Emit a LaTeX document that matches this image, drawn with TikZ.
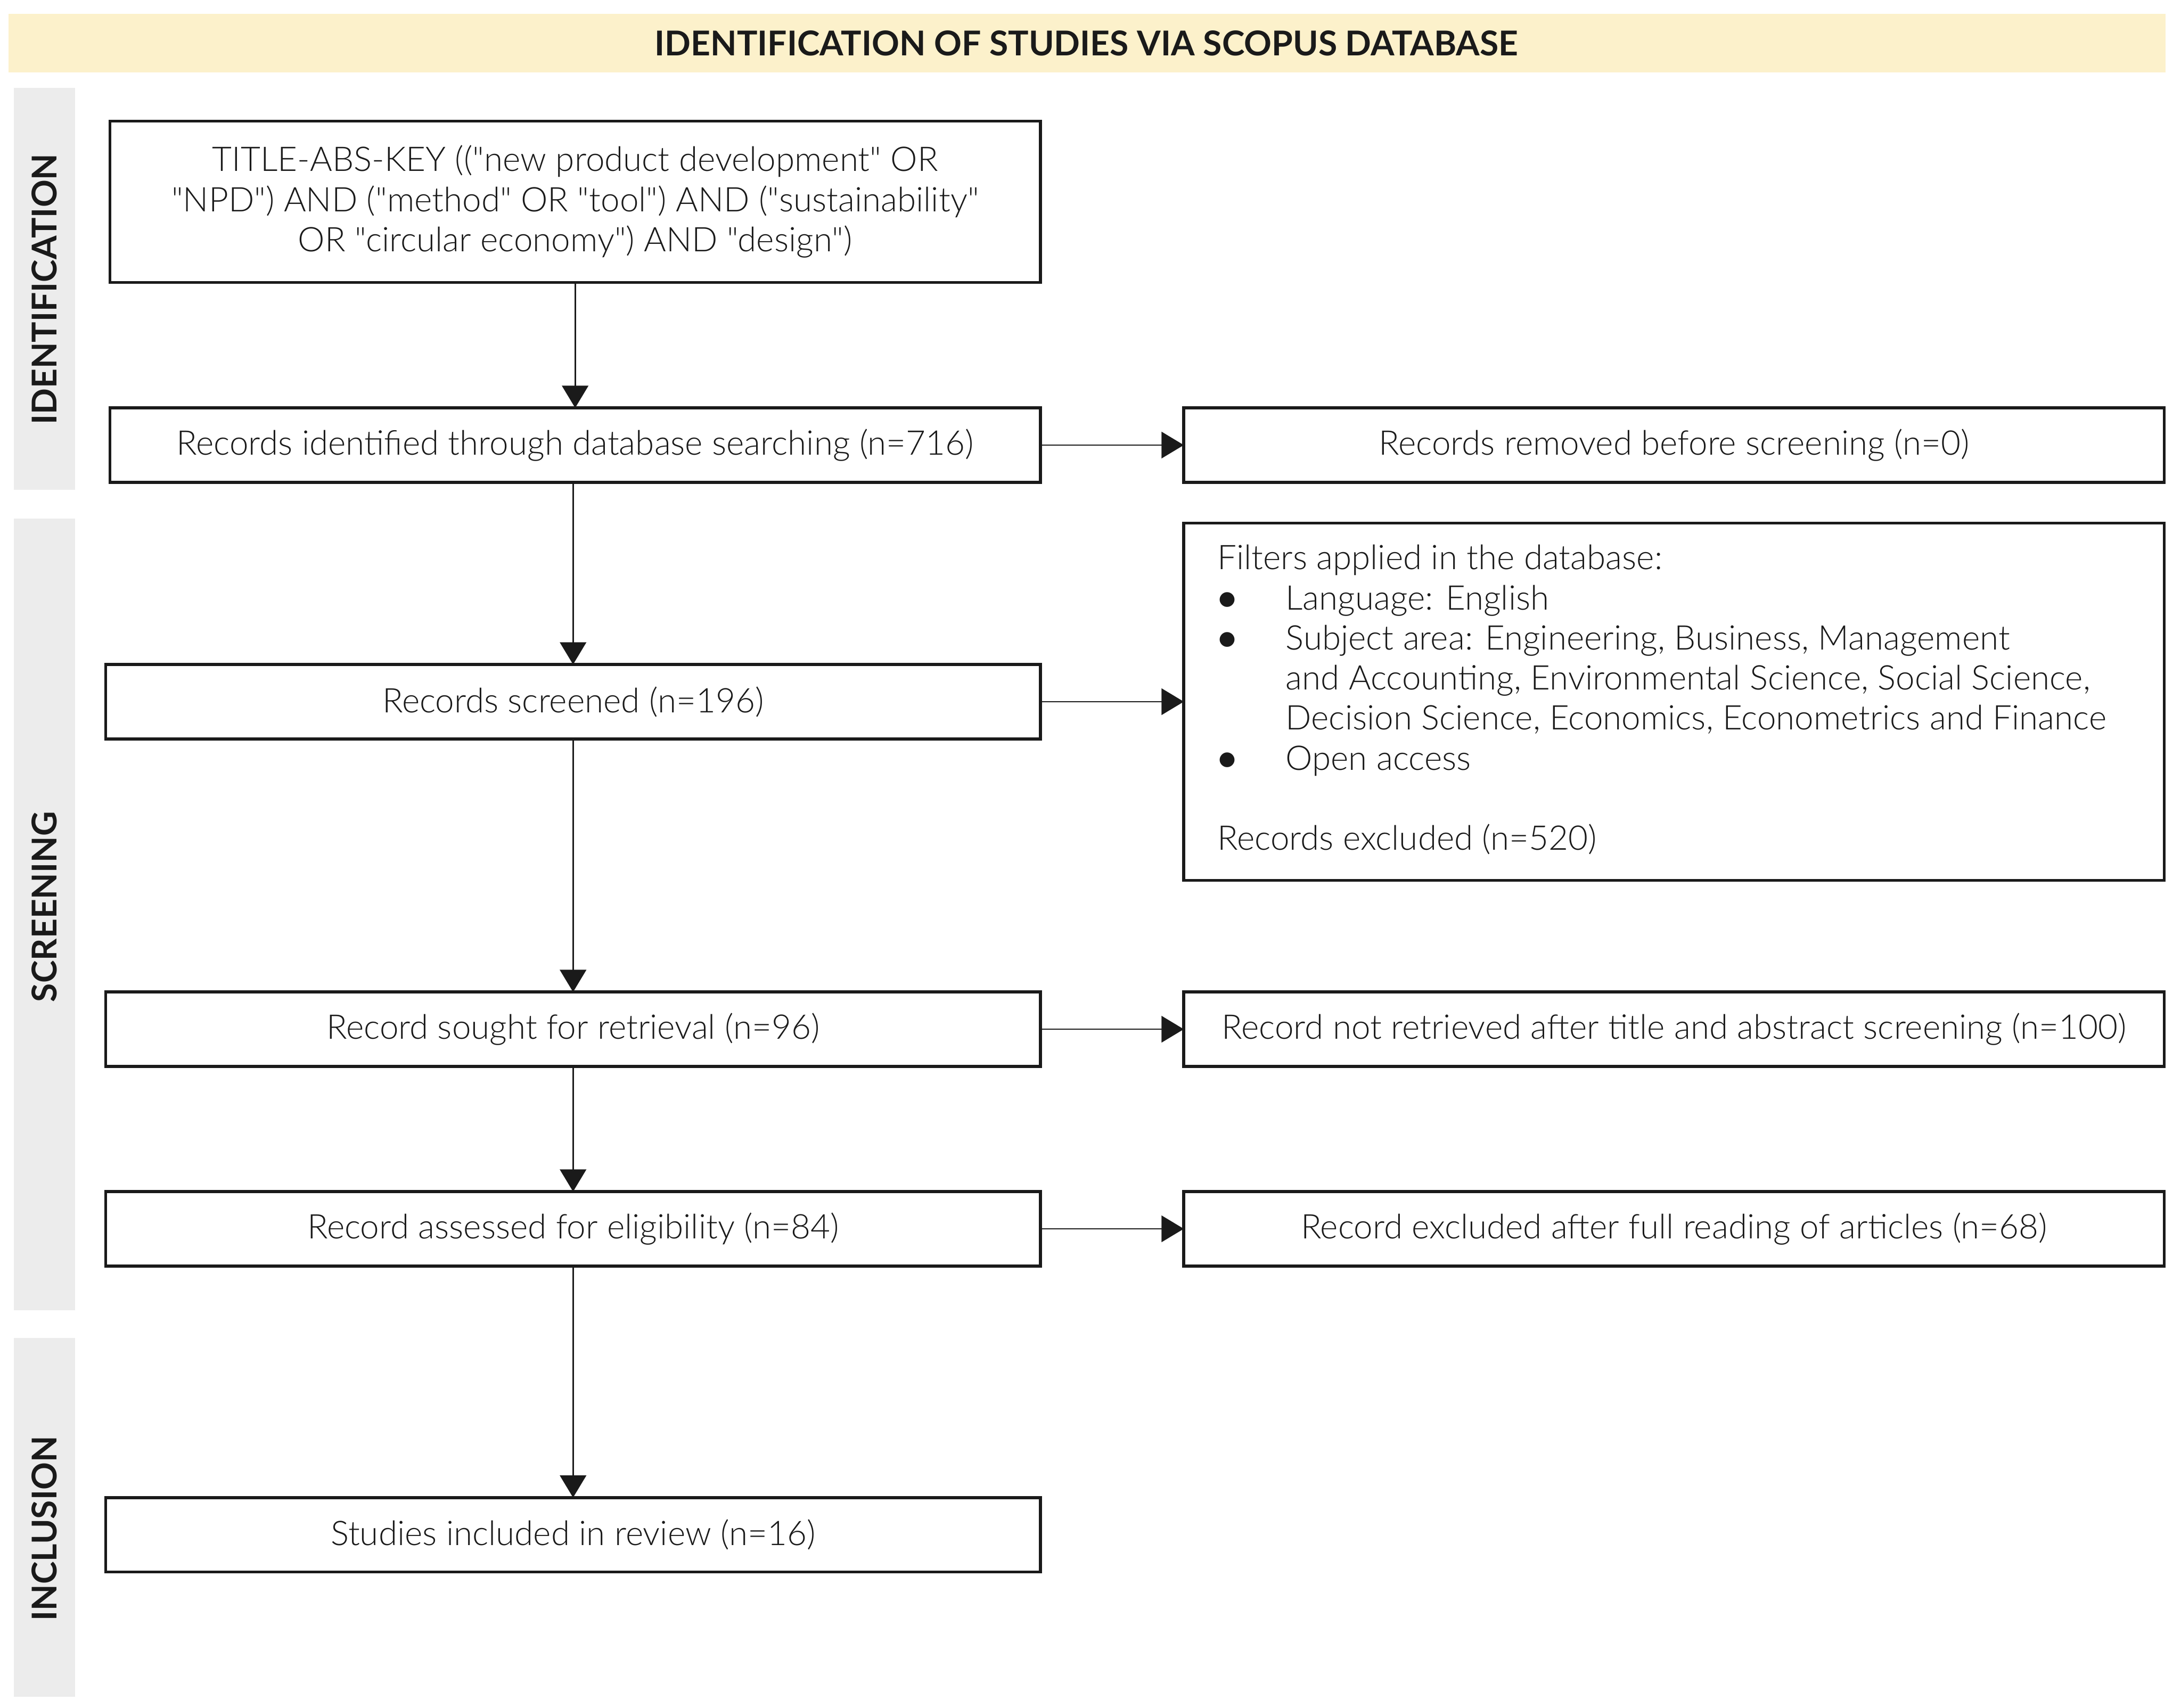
\documentclass[tikz,border=0pt]{standalone}
\usepackage{fontspec}
\newfontfamily\bodyfont{Lato Light}
\newfontfamily\headfont{Lato}
\usetikzlibrary{arrows.meta}
\definecolor{banner}{RGB}{252,241,203}
\definecolor{strip}{RGB}{236,236,236}
\definecolor{ink}{RGB}{26,26,26}
\newcommand{\blt}{{\headfont\bfseries\textbullet}}
\begin{document}
\begin{tikzpicture}[x=0.02cm,y=-0.02cm,
  txt/.style={font=\bodyfont\fontsize{13.9}{16.4}\selectfont, text=ink},
  box/.style={txt, draw=ink, line width=1.2pt, fill=white, inner sep=0pt, outer sep=0pt, align=center},
  wide/.style={minimum width=13.38cm},
  wideb/.style={minimum width=13.44cm},
  right/.style={minimum width=14.1cm},
  short/.style={minimum height=1.07cm},
  arr/.style={draw=ink, line width=0.6pt, -{Triangle[length=0.32cm,width=0.38cm]}},
  stripbox/.style={fill=strip, draw=none},
  side/.style={rotate=90, font=\headfont\bfseries\fontsize{14}{16}\selectfont, text=ink}]
\useasboundingbox (0,0) rectangle (1568,1228);
\fill[white] (0,0) rectangle (1568,1228);
% banner
\fill[banner] (6,10) rectangle (1557,52);
\node[font=\headfont\bfseries\fontsize{14}{16}\selectfont, text=ink] (title) at (781,31) {IDENTIFICATION OF STUDIES VIA SCOPUS DATABASE};
% side strips
\fill[stripbox] (10,63) rectangle (54,352);
\fill[stripbox] (10,373) rectangle (54,942);
\fill[stripbox] (10,962) rectangle (54,1220);
\node[side] (sid) at (32,208) {IDENTIFICATION};
\node[side] (sscr) at (32,652) {SCREENING};
\node[side] (sinc) at (32,1099) {INCLUSION};
% boxes
\node[box, wide, minimum height=2.32cm] (q) at (413.5,145)
  {TITLE-ABS-KEY (("new product development" OR\\
   "NPD") AND ("method" OR "tool") AND ("sustainability"\\
   OR "circular economy") AND "design")};
\node[box, wide, short] (rid) at (413.5,320) {Records identified through database searching (n=716)};
\node[box, right, short] (rem) at (1203.5,320) {Records removed before screening (n=0)};
\node[box, wideb, short] (scr) at (412,504.5) {Records screened (n=196)};
\node[box, right, minimum height=5.14cm] (filt) at (1203.5,504.5) {};
\node[txt, anchor=north west, inner sep=0pt] (filttxt) at (875,389)
  {\begin{tabular}{@{}p{0.98cm}@{}l@{}}
   \multicolumn{2}{@{}l@{}}{Filters applied in the database:}\\
   \blt & Language: English\\
   \blt & Subject area: Engineering, Business, Management\\
    & and Accounting, Environmental Science, Social Science,\\
    & Decision Science, Economics, Econometrics and Finance\\
   \blt & Open access\\
   \multicolumn{2}{@{}l@{}}{}\\
   \multicolumn{2}{@{}l@{}}{Records excluded (n=520)}
   \end{tabular}};
\node[box, wideb, short] (sought) at (412,740) {Record sought for retrieval (n=96)};
\node[box, right, short] (notret) at (1203.5,740) {Record not retrieved after title and abstract screening (n=100)};
\node[box, wideb, short] (assess) at (412,883.5) {Record assessed for eligibility (n=84)};
\node[box, right, short] (excl) at (1203.5,883.5) {Record excluded after full reading of articles (n=68)};
\node[box, wideb, short] (incl) at (412,1103.5) {Studies included in review (n=16)};
% connectors
\draw[arr] (q.south) -- (rid.north);
\draw[arr] (scr.north |- rid.south) -- (scr.north);
\draw[arr] (scr.south) -- (sought.north);
\draw[arr] (sought.south) -- (assess.north);
\draw[arr] (assess.south) -- (incl.north);
\draw[arr] (rid.east) -- (rem.west);
\draw[arr] (scr.east) -- (filt.west);
\draw[arr] (sought.east) -- (notret.west);
\draw[arr] (assess.east) -- (excl.west);
\end{tikzpicture}
\end{document}
